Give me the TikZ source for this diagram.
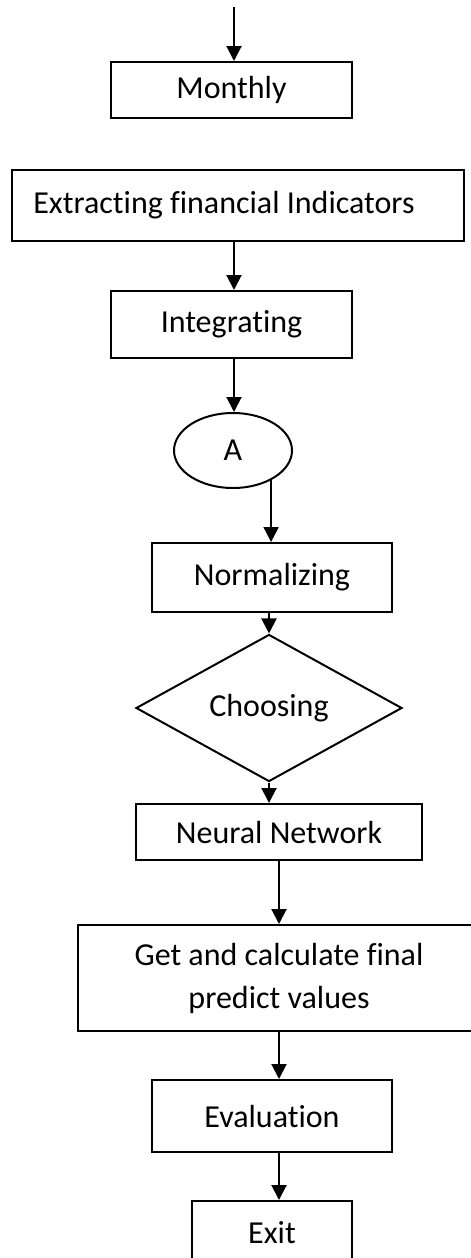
\documentclass[tikz,border=0pt]{standalone}
\usepackage{fontspec}
\setmainfont{Carlito}[Ligatures=NoCommon]
\usetikzlibrary{shapes.geometric,arrows.meta}

\begin{document}
\begin{tikzpicture}[x=0.5pt, y=-0.5pt, line width=1pt, >={Triangle[length=7.5pt,width=7.5pt]},
        font=\fontsize{16}{21.5}\selectfont,
        box node/.style={draw, rectangle, inner sep=0pt},
        oval node/.style={draw, ellipse, inner sep=0pt},
        choice node/.style={draw, diamond, inner sep=0pt}]

                \useasboundingbox (0,0) rectangle (471,1258);

                \coordinate (start) at (234, 7);
                \node[box node, minimum width=120.5pt, minimum height=28pt] at (231.5, 90) (monthly) {Monthly};
                \node[box node, minimum width=226pt, minimum height=35.5pt] at (238, 205.5) (extract) {Extracting financial Indicators\hspace*{14pt}};
                \node[box node, minimum width=120.5pt, minimum height=33.5pt] at (231.5, 324.5) (integ) {Integrating};
                \node[oval node, minimum width=59pt, minimum height=37.5pt] at (233, 450.5) (A) {A};
                \node[box node, minimum width=120pt, minimum height=34.5pt] at (272, 577.5) (norm) {Normalizing};
                \node[choice node, minimum width=133pt, minimum height=46pt] at (269, 708) (choose) {Choosing};
                \node[box node, minimum width=143pt, minimum height=28pt] at (279, 832) (neural) {Neural Network};
                \node[box node, minimum width=201pt, minimum height=53pt, align=center] at (279, 978) (get) {Get and calculate final\\predict values};
                \node[box node, minimum width=120pt, minimum height=36pt] at (272, 1116) (eval) {Evaluation};
                \node[box node, minimum width=80pt, minimum height=32pt] at (272, 1233) (exit) {Exit};

                \path[->] (start) edge (start |- monthly.north);
                \path[->] (start |- extract.south) edge (start |- integ.north);
                \path[->] (start |- integ.south) edge (start |- A.north);
                \path[->] (A.-38) edge (A.-38 |- norm.north);
                \path[->] (norm.south -| choose.north) edge (choose.north);
                \path[->] (choose.south) edge (choose.south |- neural.north);
                \path[->] (neural.south) edge (neural.south |- get.north);
                \path[->] (neural.south |- get.south) edge (neural.south |- eval.north);
                \path[->] (neural.south |- eval.south) edge (neural.south |- exit.north);
            \end{tikzpicture}
\end{document}
